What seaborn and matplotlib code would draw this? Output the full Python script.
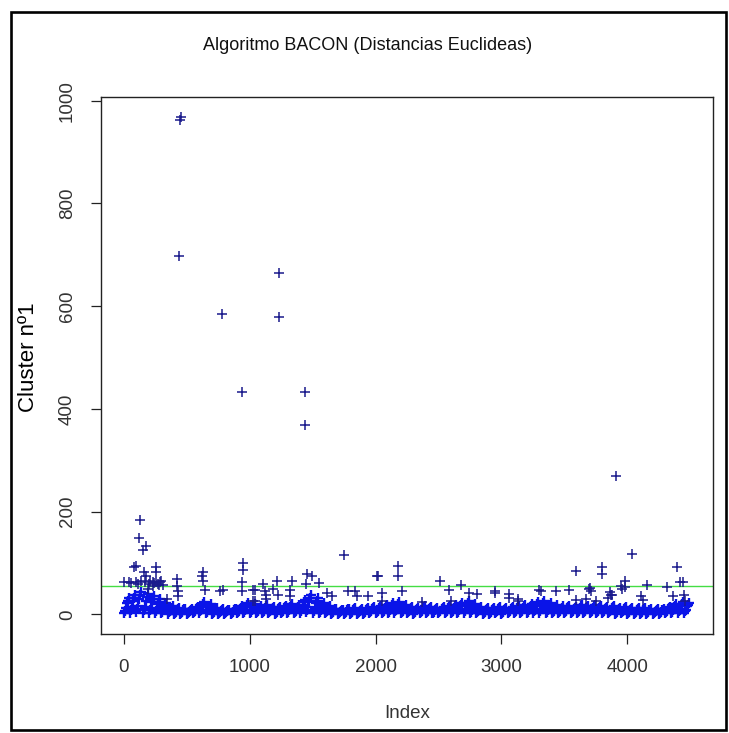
import numpy as np
import pandas as pd
import matplotlib
matplotlib.use("Agg")
import matplotlib.pyplot as plt
import seaborn as sns
from matplotlib.patches import Rectangle

# ---------------- data ----------------
# isolated points above the dense band: index, value
out_idx = [450, 455, 443, 1233, 783, 1233, 941, 1439, 1439, 3913,
           130, 119, 174, 150, 1747, 4040, 949, 949, 943, 632, 632, 625,
           2182, 2182, 2008, 3589, 3802, 3802, 4395, 3984, 3984, 4158, 4316,
           4419, 4443, 3707, 3534,
           95, 79, 158, 174, 253, 253, 0, 40, 95, 213, 253, 292, 316, 190, 229,
           427, 427, 435, 435, 348, 648, 767, 790, 938, 1028, 1028,
           1454, 1494, 1447, 1549, 1107, 1217, 1336, 1043, 1123, 1186, 1320,
           1043, 1130, 1130, 1225, 1320, 1612, 1652, 1779, 1834, 1850, 1937,
           2055, 2055, 2213, 2372, 2514, 2680, 2585, 2743, 2806, 2948, 2948,
           3059, 3059, 3130, 3130, 3296, 3312, 3431, 3692, 3715, 3866, 3881,
           3953, 3960, 3668, 3747, 3589, 2600, 4364, 4450, 3873, 3850, 4111,
           4126, 4458, 60, 110, 140, 170, 200, 240, 270, 300, 280, 230, 2016]
out_val = [963, 968, 697, 665, 585, 579, 432, 432, 368, 269,
           184, 148, 134, 125, 116, 117, 101, 87, 64, 83, 66, 75,
           95, 74, 75, 85, 93, 78, 93, 66, 54, 57, 53,
           63, 64, 51, 48,
           95, 93, 83, 75, 93, 83, 64, 64, 64, 66, 64, 64, 58, 50, 56,
           70, 56, 45, 35, 31, 47, 45, 47, 45, 47, 27,
           79, 74, 60, 62, 60, 66, 66, 48, 45, 50, 47,
           27, 37, 31, 37, 35, 41, 35, 45, 45, 35, 35,
           41, 27, 45, 25, 66, 58, 47, 41, 39, 45, 41,
           39, 33, 31, 27, 48, 45, 45, 50, 45, 43, 37,
           56, 50, 31, 27, 29, 27, 35, 37, 37, 33, 35,
           29, 27, 62, 60, 66, 63, 60, 62, 60, 66, 58, 64, 75]

# dense band, sampled every 50 indices (six sample rows per bin)
band_idx = np.arange(0, 4500, 50)
band_hi = [32, 38, 44, 40, 36, 30, 22, 16, 13, 11,
           10, 14, 24, 20, 13, 10, 9, 11, 16, 22,
           20, 16, 19, 15, 14, 17, 21, 18, 28, 38,
           32, 23, 17, 11, 9, 11, 13, 10, 13, 15,
           17, 19, 22, 24, 19, 15, 12, 17, 15, 13,
           15, 17, 19, 23, 26, 21, 15, 13, 12, 15,
           12, 15, 17, 19, 21, 25, 27, 22, 18, 16,
           17, 15, 19, 17, 19, 17, 15, 17, 13, 15,
           13, 12, 13, 11, 10, 11, 15, 21, 25, 23]
band_b = [27, 33, 37, 34, 30, 25, 18, 13, 11, 10,
          9, 12, 20, 17, 11, 9, 8, 10, 13, 18,
          17, 13, 16, 12, 12, 14, 17, 15, 24, 32,
          27, 19, 14, 10, 8, 10, 11, 9, 11, 12,
          14, 16, 18, 20, 16, 12, 10, 14, 12, 11,
          12, 14, 16, 19, 22, 17, 12, 11, 10, 12,
          10, 12, 14, 16, 17, 21, 22, 18, 15, 13,
          14, 12, 16, 14, 16, 14, 12, 14, 11, 12,
          11, 10, 11, 9, 8, 9, 12, 17, 21, 19]
band_m1 = [22, 26, 30, 27, 24, 20, 15, 11, 9, 8,
           7, 10, 16, 14, 9, 7, 6, 8, 11, 15,
           14, 11, 13, 10, 10, 12, 14, 12, 19, 26,
           22, 16, 12, 8, 6, 8, 9, 7, 9, 10,
           12, 13, 15, 16, 13, 10, 8, 12, 10, 9,
           10, 12, 13, 16, 18, 14, 10, 9, 8, 10,
           8, 10, 12, 13, 14, 17, 18, 15, 12, 11,
           12, 10, 13, 12, 13, 12, 10, 12, 9, 10,
           9, 8, 9, 8, 7, 8, 10, 14, 17, 16]
band_m2 = [12, 14, 16, 15, 13, 11, 8, 6, 5, 5,
           4, 6, 9, 8, 5, 4, 4, 5, 6, 8,
           8, 6, 7, 6, 5, 6, 8, 7, 10, 14,
           12, 9, 7, 5, 4, 5, 5, 4, 5, 6,
           6, 7, 8, 9, 7, 6, 5, 6, 6, 5,
           6, 6, 7, 8, 10, 8, 6, 5, 5, 6,
           5, 6, 6, 7, 8, 9, 10, 8, 7, 6,
           6, 6, 7, 6, 7, 6, 6, 6, 5, 6,
           5, 5, 5, 4, 4, 4, 6, 8, 9, 9]
band_a = [7, 8, 10, 9, 8, 6, 5, 4, 3, 3,
          3, 4, 6, 5, 3, 3, 2, 3, 4, 5,
          5, 4, 5, 4, 3, 4, 5, 4, 6, 9,
          7, 5, 4, 3, 2, 3, 3, 3, 3, 4,
          4, 4, 5, 6, 4, 4, 3, 4, 4, 3,
          4, 4, 4, 5, 6, 5, 4, 3, 3, 4,
          3, 4, 4, 4, 5, 6, 6, 5, 4, 4,
          4, 4, 4, 4, 4, 4, 4, 4, 3, 4,
          3, 3, 3, 3, 2, 3, 4, 5, 6, 6]
band_lo = [2, 3, 4, 3, 3, 2, 2, 1, 1, 1,
           1, 2, 3, 2, 1, 1, 1, 1, 2, 3,
           2, 2, 2, 2, 1, 2, 2, 2, 3, 4,
           3, 2, 2, 1, 1, 1, 1, 1, 1, 2,
           2, 2, 2, 3, 2, 2, 1, 2, 2, 2,
           2, 2, 2, 3, 3, 2, 2, 1, 1, 2,
           1, 2, 2, 2, 3, 3, 3, 2, 2, 2,
           2, 2, 2, 2, 2, 2, 2, 2, 1, 2,
           1, 1, 1, 1, 1, 1, 2, 2, 3, 3]

threshold = 56
x_ticks = [0, 1000, 2000, 3000, 4000]
y_ticks = [0, 200, 400, 600, 800, 1000]
title = "Algoritmo BACON (Distancias Euclideas)"
xlab = "Index"
ylab = "Cluster nº1"

# ---------------- plotting ----------------
sns.set_style("white")
plt.rcParams["font.family"] = ["Liberation Sans", "DejaVu Sans"]

W, H = 729, 733
fig = plt.figure(figsize=(W / 100, H / 100), dpi=100)
fig.patch.set_facecolor("white")
ax = fig.add_axes([101 / W, 1 - 634 / H, 612 / W, 537 / H])

band_frames = []
rows = [band_lo, band_a, band_m2, band_m1, band_b, band_hi]
for k, vals in enumerate(rows):
    band_frames.append(pd.DataFrame({"Index": band_idx + k * 8, "val": vals}))
band_df = pd.concat(band_frames, ignore_index=True)
out_df = pd.DataFrame({"Index": out_idx, "val": out_val})

sns.scatterplot(data=band_df, x="Index", y="val", marker="+", s=56,
                color="#0a14e8", linewidth=1.7, ax=ax, legend=False)
sns.scatterplot(data=out_df, x="Index", y="val", marker="+", s=48,
                color="#1a1a8c", linewidth=1.1, ax=ax, legend=False)

ax.axhline(threshold, color="#44dd44", lw=1.0, zorder=0)

ax.set_xlim(-180, 4680)
ax.set_ylim(-38, 1007)
ax.set_xticks(x_ticks)
ax.set_xticklabels([str(t) for t in x_ticks])
ax.set_yticks(y_ticks)
ax.set_yticklabels([str(t) for t in y_ticks], rotation=90, va="center")
ax.tick_params(axis="both", direction="out", length=7, width=0.9,
               color="#222222", labelcolor="#333333", labelsize=13.5,
               bottom=True, left=True)
ax.tick_params(axis="x", pad=11)
ax.tick_params(axis="y", pad=11)
for sp in ax.spines.values():
    sp.set_color("#222222")
    sp.set_linewidth(1.0)

ax.set_xlabel(xlab, fontsize=13.5, color="#333333")
ax.xaxis.set_label_coords(0.5, (634 - 713) / 537)
ax.xaxis.label.set_va("center")
ax.set_ylabel(ylab, fontsize=16, color="#000000")
ax.yaxis.set_label_coords((28 - 101) / 612, (634 - 357) / 537)
ax.yaxis.label.set_va("center")

fig.text(368 / W, 1 - 46 / H, title, ha="center", va="center",
         fontsize=13, color="#111111")

fig.patches.append(Rectangle((11 / W, 1 - 730 / H), 715 / W, 718 / H,
                             transform=fig.transFigure, fill=False,
                             edgecolor="black", linewidth=1.9))

fig.savefig("out.png", dpi=100, facecolor="white")
